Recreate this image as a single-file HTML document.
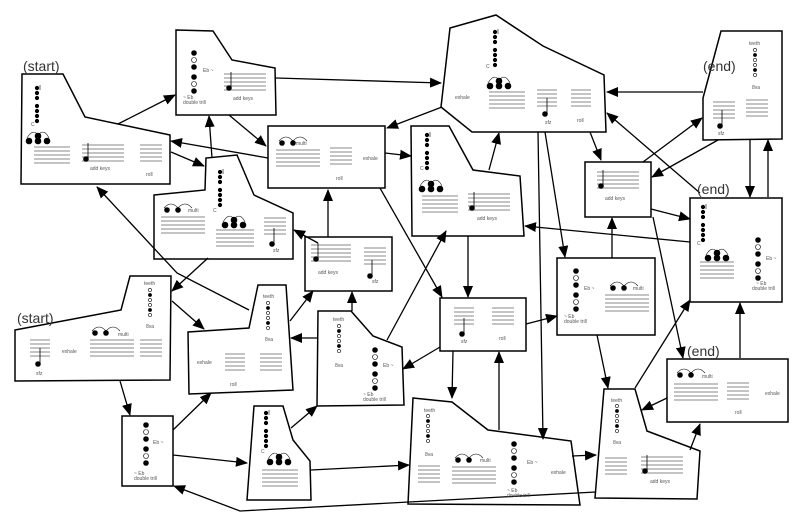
<!DOCTYPE html>
<html><head><meta charset="utf-8"><style>
html,body{margin:0;padding:0;background:#fff;}
svg{display:block;font-family:"Liberation Sans",sans-serif;}
.s{font-size:5px;fill:#555;}
.b{font-size:14px;fill:#333;}
</style></head><body>
<svg id="sv" width="800" height="518" viewBox="0 0 800 518" xmlns="http://www.w3.org/2000/svg">
<defs><marker id="ah" markerUnits="userSpaceOnUse" markerWidth="12" markerHeight="12" refX="11" refY="6" orient="auto"><path d="M0,1 L12,6 L0,11 Z" fill="#000"/></marker></defs>
<g fill="#fff" stroke="#000" stroke-width="1.5">
<polygon points="22,74 63,74 85,117 170,135 170,184 21,184"/>
<polygon points="176,30 213,31 232,60 275,68 276,115 176,115"/>
<rect x="268" y="126" width="117" height="62"/>
<polygon points="154,195 205,190 206,158 237,155 254,195 293,213 293,259 154,259"/>
<rect x="305" y="237" width="87" height="54"/>
<polygon points="450,28 496,15 543,46 604,75 606,132 472,132 441,107"/>
<polygon points="411,126 449,126 473,170 520,176 524,236 412,236"/>
<polygon points="703,98 721,31 782,31 782,139 703,140"/>
<rect x="585" y="162" width="66" height="55"/>
<rect x="690" y="198" width="92" height="104"/>
<polygon points="15,330 121,310 130,276 171,276 170,380 15,381"/>
<polygon points="188,332 249,328 258,285 286,285 293,390 189,394"/>
<polygon points="318,311 351,311 373,336 402,347 404,405 317,406"/>
<rect x="440" y="298" width="86" height="53"/>
<rect x="557" y="258" width="98" height="77"/>
<polygon points="413,398 452,402 488,430 571,441 580,505 408,504"/>
<polygon points="604,389 635,389 647,431 700,451 697,499 595,498"/>
<rect x="667" y="359" width="121" height="63"/>
<rect x="122" y="416" width="51" height="70"/>
<polygon points="254,406 283,406 293,440 310,461 311,500 247,500"/>
</g>
<g id="content"></g>
<g stroke="#000" stroke-width="1.3" fill="none" marker-end="url(#ah)">
<line x1="118" y1="124" x2="175" y2="95"/>
<line x1="171" y1="152" x2="204" y2="166"/>
<line x1="268" y1="158" x2="171" y2="141"/>
<line x1="229" y1="115" x2="266" y2="146"/>
<line x1="212" y1="158" x2="209" y2="116"/>
<line x1="276" y1="78" x2="441" y2="83"/>
<polyline points="249,310 177,273 97,187"/>
<line x1="318" y1="243" x2="294" y2="230"/>
<line x1="328" y1="237" x2="328" y2="190"/>
<line x1="442" y1="107" x2="387" y2="128"/>
<line x1="385" y1="153" x2="411" y2="156"/>
<line x1="380" y1="188" x2="442" y2="297"/>
<line x1="489" y1="170" x2="499" y2="133"/>
<line x1="590" y1="132" x2="601" y2="160"/>
<line x1="545" y1="132" x2="565" y2="257"/>
<line x1="538" y1="132" x2="543" y2="439"/>
<line x1="703" y1="92" x2="607" y2="92"/>
<line x1="643" y1="162" x2="702" y2="118"/>
<line x1="718" y1="140" x2="652" y2="177"/>
<line x1="700" y1="193" x2="607" y2="113"/>
<line x1="750" y1="140" x2="750" y2="197"/>
<line x1="768" y1="197" x2="768" y2="140"/>
<line x1="651" y1="209" x2="690" y2="219"/>
<line x1="690" y1="242" x2="525" y2="226"/>
<line x1="612" y1="258" x2="612" y2="218"/>
<line x1="653" y1="217" x2="683" y2="358"/>
<line x1="597" y1="335" x2="608" y2="388"/>
<line x1="635" y1="388" x2="690" y2="300"/>
<line x1="740" y1="358" x2="740" y2="303"/>
<line x1="667" y1="398" x2="642" y2="410"/>
<line x1="690" y1="450" x2="700" y2="424"/>
<line x1="572" y1="456" x2="596" y2="455"/>
<line x1="526" y1="324" x2="557" y2="316"/>
<line x1="440" y1="347" x2="403" y2="369"/>
<line x1="453" y1="351" x2="452" y2="398"/>
<line x1="499" y1="430" x2="499" y2="352"/>
<line x1="468" y1="236" x2="468" y2="297"/>
<line x1="387" y1="340" x2="446" y2="231"/>
<line x1="352" y1="311" x2="352" y2="292"/>
<line x1="318" y1="338" x2="291" y2="338"/>
<line x1="290" y1="321" x2="313" y2="291"/>
<line x1="208" y1="258" x2="172" y2="291"/>
<line x1="172" y1="301" x2="204" y2="329"/>
<line x1="120" y1="381" x2="130" y2="415"/>
<line x1="173" y1="430" x2="211" y2="393"/>
<line x1="173" y1="455" x2="247" y2="463"/>
<line x1="291" y1="428" x2="317" y2="406"/>
<line x1="311" y1="470" x2="409" y2="465"/>
<polyline points="596,492 240,511 174,486"/>
</g>
<g class="b">
<text x="23" y="71">(start)</text><text x="17" y="323">(start)</text>
<text x="703" y="71">(end)</text><text x="697" y="194">(end)</text><text x="687" y="356">(end)</text>
</g>
<g class="s">
<text x="31" y="126">C</text><text x="90" y="170">add keys</text><text x="146" y="176">roll</text>
<text x="203" y="72">Eb ~</text><text x="183" y="99">~ Eb</text><text x="183" y="104">double trill</text><text x="233" y="100">add keys</text>
<text x="296" y="145">multi</text><text x="336" y="180">roll</text><text x="363" y="160">exhale</text>
<text x="188" y="212">multi</text><text x="213" y="212">C</text><text x="273" y="252">sfz</text>
<text x="318" y="274">add keys</text><text x="372" y="283">sfz</text>
<text x="486" y="68">C</text><text x="455" y="99">exhale</text><text x="545" y="124">sfz</text><text x="577" y="122">roll</text>
<text x="420" y="170">C</text><text x="477" y="220">add keys</text>
<text x="749" y="45">teeth</text><text x="752" y="89">8va</text><text x="718" y="135">sfz</text>
<text x="605" y="200">add keys</text>
<text x="697" y="245">C</text><text x="766" y="260">Eb ~</text><text x="756" y="285">~ Eb</text><text x="752" y="290">double trill</text>
<text x="36" y="375">sfz</text><text x="62" y="353">exhale</text><text x="118" y="336">multi</text><text x="144" y="285">teeth</text><text x="146" y="328">8va</text>
<text x="263" y="298">teeth</text><text x="197" y="364">exhale</text><text x="230" y="386">roll</text><text x="265" y="341">8va</text>
<text x="333" y="321">teeth</text><text x="335" y="367">8va</text><text x="383" y="367">Eb ~</text><text x="363" y="396">~ Eb</text><text x="363" y="401">double trill</text>
<text x="461" y="343">sfz</text><text x="499" y="340">roll</text>
<text x="584" y="290">Eb ~</text><text x="564" y="318">~ Eb</text><text x="564" y="323">double trill</text><text x="633" y="290">multi</text>
<text x="424" y="412">teeth</text><text x="425" y="456">8va</text><text x="480" y="462">multi</text><text x="527" y="464">Eb ~</text><text x="507" y="492">~ Eb</text><text x="507" y="497">double trill</text><text x="551" y="474">exhale</text>
<text x="611" y="402">teeth</text><text x="613" y="444">8va</text><text x="650" y="483">add keys</text>
<text x="702" y="378">multi</text><text x="735" y="414">roll</text><text x="765" y="395">exhale</text>
<text x="134" y="475">~ Eb</text><text x="134" y="480">double trill</text><text x="153" y="444">Eb ~</text>
<text x="261" y="453">C</text><text x="262" y="457"></text>
</g>
</svg>
<script>
(function(){
var g=document.getElementById('content'),ns='http://www.w3.org/2000/svg',h='';
function st(x,y,w){for(var i=0;i<5;i++)h+='<line x1="'+x+'" y1="'+(y+i*4)+'" x2="'+(x+w)+'" y2="'+(y+i*4)+'" stroke="#888" stroke-width="1"/>';}
function d(x,y,r,f){h+='<circle cx="'+x+'" cy="'+y+'" r="'+r+'" fill="'+(f?'#000':'#fff')+'" stroke="#000" stroke-width="0.6"/>';}
function colC(x,y){for(var i=0;i<7;i++)d(x,y+i*5+(i>2?3:0),1.8,1);h+='<line x1="'+(x+3)+'" y1="'+(y-3)+'" x2="'+(x+3)+'" y2="'+(y+2)+'" stroke="#000" stroke-width="0.6"/>';}
function colEb(x,y){var p=[1,0,1,1,0,1];for(var i=0;i<6;i++)d(x,y+i*7+(i>2?3:0),2.5,p[i]);}
function colT(x,y){var p=[0,1,0,0,1,0];for(var i=0;i<6;i++)d(x,y+i*5,1.6,p[i]);}
function ch(x,y){d(x,y,3,1);d(x+9,y,3,1);d(x+18,y,3,1);d(x+9,y-5,3,1);h+='<path d="M'+(x-2)+','+(y-3)+' q6,-10 11,-3 q6,-7 11,3" fill="none" stroke="#000" stroke-width="0.6"/>';}
function mu(x,y){d(x,y,2.5,1);d(x+11,y,2.5,1);h+='<path d="M'+(x-3)+','+(y-2)+' q7,-8 14,0 q7,-8 14,0" fill="none" stroke="#000" stroke-width="0.6"/>';}
function nt(x,y){d(x,y,2.5,1);h+='<line x1="'+(x+2)+'" y1="'+y+'" x2="'+(x+2)+'" y2="'+(y-16)+'" stroke="#000" stroke-width="0.8"/>';}
function ak(x,y){nt(x,y+14);}
// A
colC(37,88);ch(29,141);st(34,147,36);st(82,145,42);ak(86,145);st(140,145,22);
// B
colEb(194,53);st(224,74,42);ak(229,74);
// C
mu(282,143);st(276,150,44);st(330,148,22);
// D
mu(167,210);st(161,217,44);colC(220,172);ch(225,225);st(216,230,38);st(264,218,22);nt(272,244);
// E
st(311,245,40);ak(316,245);st(364,248,22);nt(370,276);
// F
colC(495,32);ch(490,86);st(489,92,36);st(537,90,20);nt(545,114);st(571,90,20);
// G
colC(427,135);ch(422,189);st(422,196,36);st(468,194,42);ak(472,194);
// H
colT(755,50);st(713,102,22);nt(720,126);st(746,100,22);
// I
st(597,172,42);ak(601,172);
// J
colC(703,207);ch(708,258);st(700,262,34);colEb(758,240);
// K
st(30,340,20);nt(38,364);mu(95,333);st(90,340,44);colT(150,290);st(140,340,22);
// L
colT(268,303);st(225,354,20);st(260,354,22);
// M
colT(339,326);colEb(375,350);
// N
st(454,308,20);nt(462,334);st(492,308,22);
// O
colEb(576,271);mu(613,288);st(605,295,44);
// P
colT(428,416);st(418,466,22);mu(458,460);st(452,467,44);colEb(514,444);
// Q
colT(617,406);st(605,458,22);st(641,457,42);ak(645,457);
// R
mu(680,375);st(674,384,44);st(727,383,22);
// S
colEb(146,425);
// T
colC(266,413);ch(270,462);st(262,470,36);
g.innerHTML=h;
})();
</script>
</body></html>
